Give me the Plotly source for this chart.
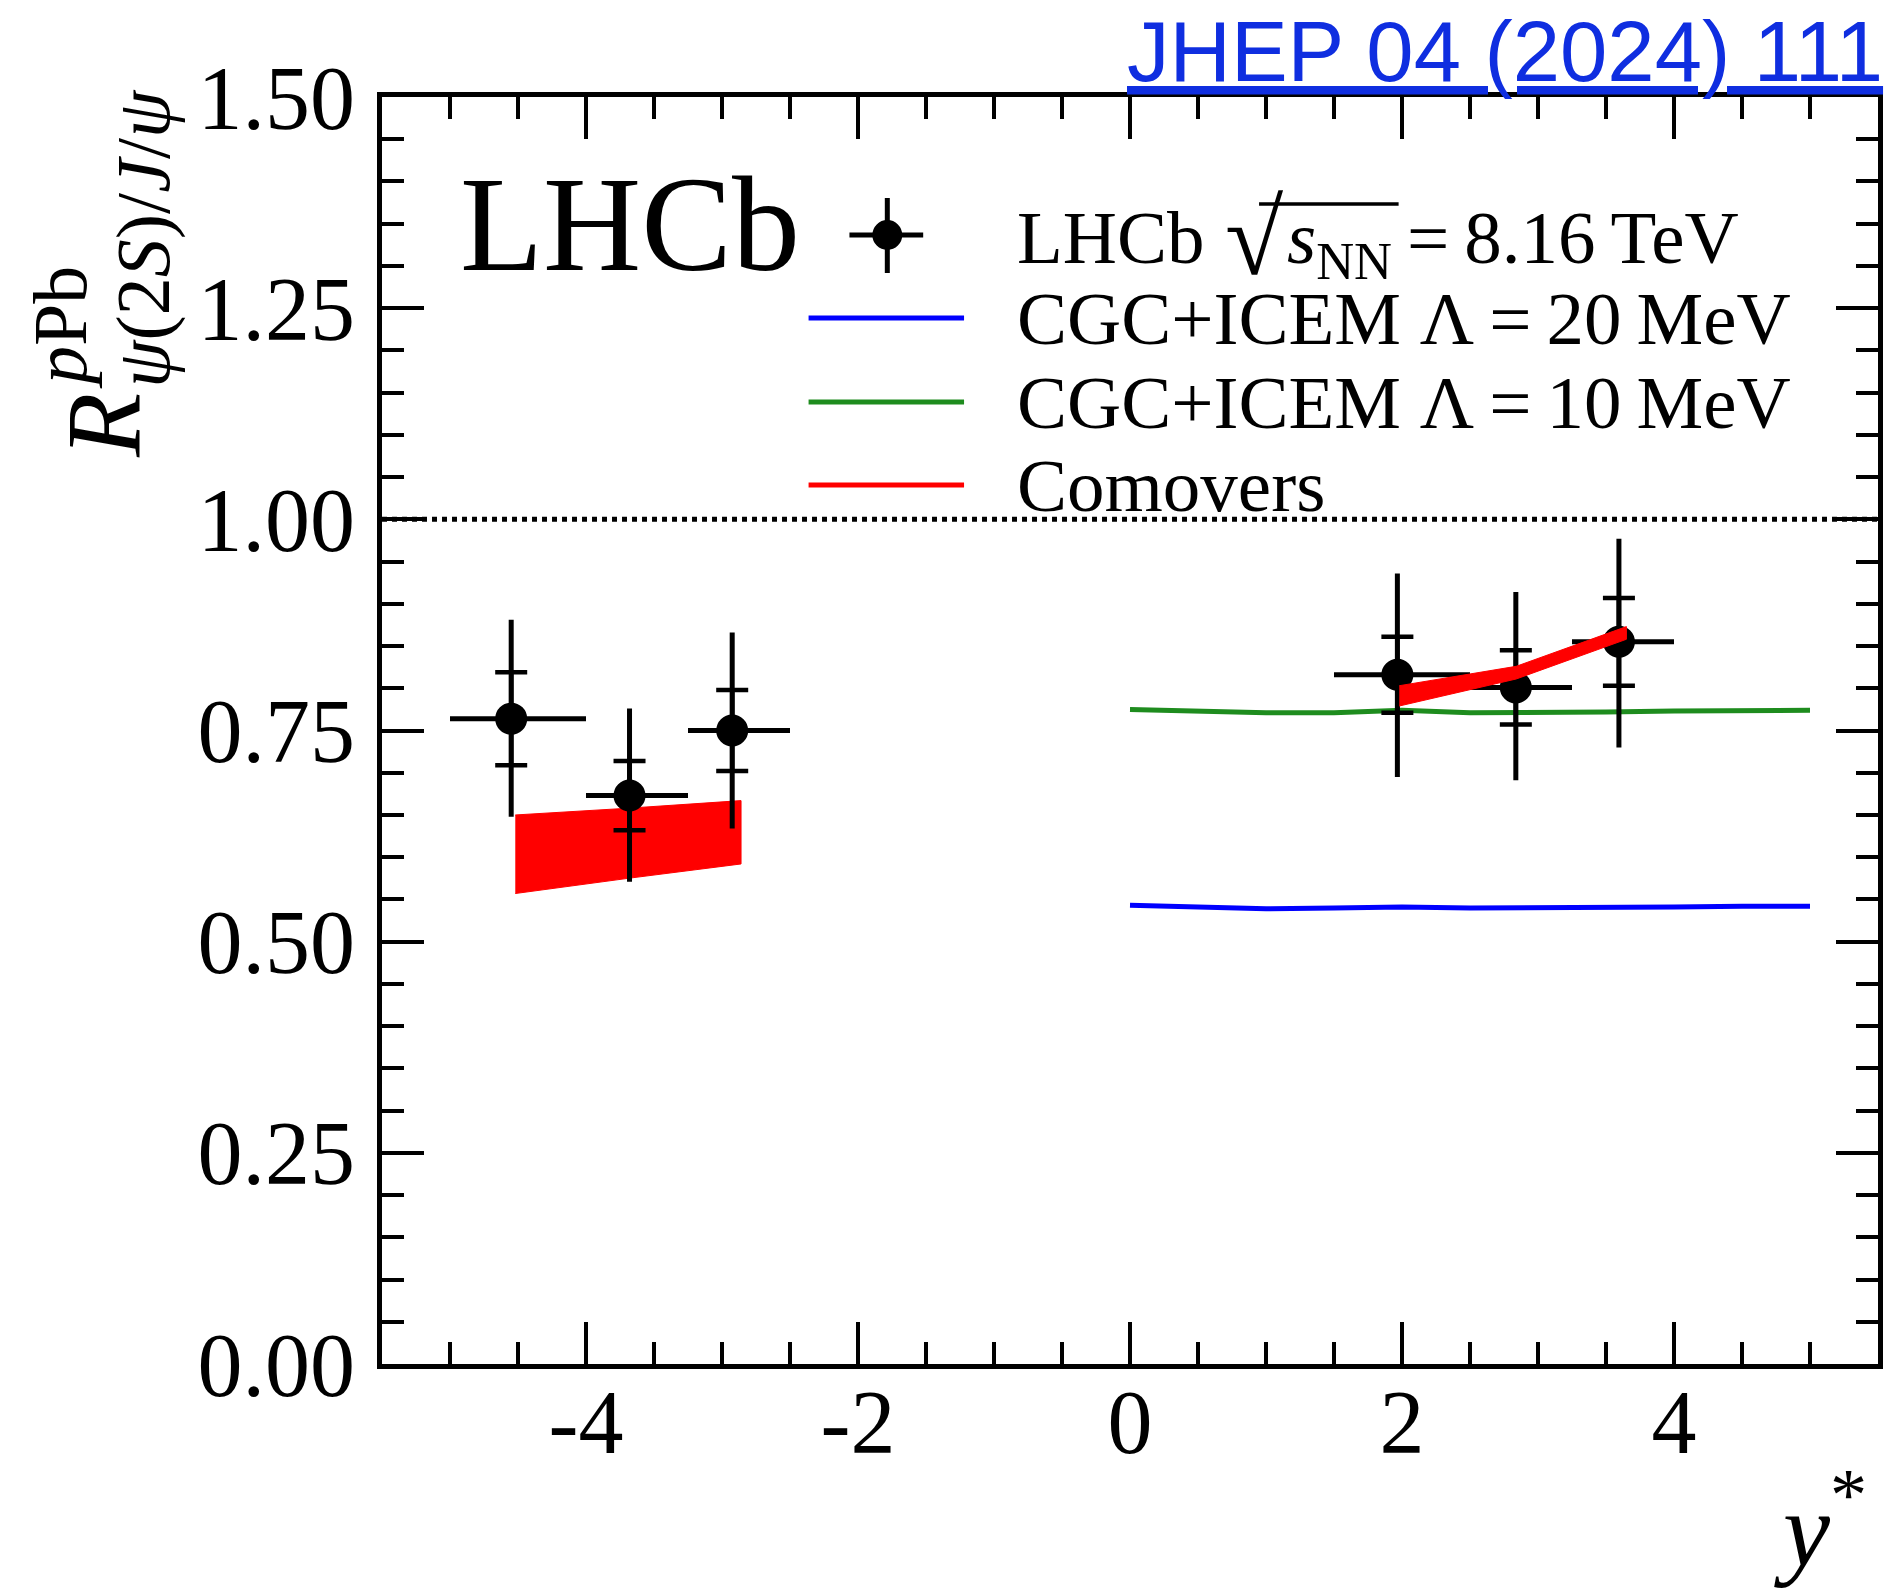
import plotly.graph_objects as go

# ---------------- data ----------------
y_star = [-4.55, -3.68, -2.925, 1.966, 2.837, 3.595]
bin_lo = [-5.0, -4.0, -3.25, 1.5, 2.5, 3.25]
bin_hi = [-4.0, -3.25, -2.5, 2.5, 3.25, 4.0]
ratio = [0.764, 0.673, 0.750, 0.816, 0.801, 0.855]
stat_err = [0.055, 0.041, 0.048, 0.045, 0.044, 0.052]
tot_err_up = [0.117, 0.103, 0.116, 0.120, 0.113, 0.122]
tot_err_down = [0.116, 0.102, 0.116, 0.121, 0.110, 0.125]

cgc_x = [0.0, 0.5, 1.0, 1.5, 2.0, 2.5, 3.0, 3.5, 4.0, 4.5, 5.0]
cgc20 = [0.543, 0.541, 0.539, 0.540, 0.541, 0.540, 0.540, 0.541, 0.541, 0.542, 0.542]
cgc10 = [0.775, 0.773, 0.771, 0.771, 0.774, 0.771, 0.771, 0.772, 0.773, 0.773, 0.774]

com_bwd_x = [-4.52, -3.69, -2.86]
com_bwd_lo = [0.557, 0.575, 0.592]
com_bwd_hi = [0.650, 0.658, 0.667]
com_fwd_x = [1.98, 2.84, 3.65]
com_fwd_lo = [0.779, 0.811, 0.858]
com_fwd_hi = [0.803, 0.826, 0.873]

x_tick_vals = [-4, -2, 0, 2, 4]
x_tick_text = ["-4", "-2", "0", "2", "4"]
y_tick_vals = [0.0, 0.25, 0.5, 0.75, 1.0, 1.25, 1.5]
y_tick_text = ["0.00", "0.25", "0.50", "0.75", "1.00", "1.25", "1.50"]

legend_labels = [
    "LHCb",
    "CGC+ICEM \u039b\u2009=\u200920\u2009MeV",
    "CGC+ICEM \u039b\u2009=\u200910\u2009MeV",
    "Comovers",
]
legend_energy = "<i>s</i><sub>NN</sub>\u2009=\u20098.16\u2009TeV"

# ---------------- layout geometry (pixels) ----------------
W, H = 1892, 1591
PL, PR, PT, PB = 382, 1883, 97, 1364
SERIF = "Liberation Serif"
BLUE, GREEN, RED = "#0000ff", "#1e8c1e", "#ff0000"


def px(p):
    return (p - PL) / (PR - PL)


def py(p):
    return (PB - p) / (PB - PT)


fig = go.Figure()

# comovers backward band (under data)
fig.add_trace(go.Scatter(
    x=com_bwd_x + com_bwd_x[::-1], y=com_bwd_lo + com_bwd_hi[::-1],
    fill="toself", fillcolor=RED, mode="lines",
    line=dict(color=RED, width=1), showlegend=False, hoverinfo="skip"))

# CGC+ICEM lines
fig.add_trace(go.Scatter(x=cgc_x, y=cgc20, mode="lines",
                         line=dict(color=BLUE, width=5), showlegend=False))
fig.add_trace(go.Scatter(x=cgc_x, y=cgc10, mode="lines",
                         line=dict(color=GREEN, width=5), showlegend=False))

# LHCb data: total uncertainty + bin widths
fig.add_trace(go.Scatter(
    x=y_star, y=ratio, mode="markers",
    marker=dict(symbol="circle", size=29, color="black",
                line=dict(color="black", width=3)),
    error_x=dict(type="data", symmetric=False,
                 array=[h - x for h, x in zip(bin_hi, y_star)],
                 arrayminus=[x - l for x, l in zip(y_star, bin_lo)],
                 width=0, thickness=5, color="black"),
    error_y=dict(type="data", symmetric=False, array=tot_err_up,
                 arrayminus=tot_err_down, width=0, thickness=5, color="black"),
    showlegend=False))
# statistical uncertainty ticks
fig.add_trace(go.Scatter(
    x=y_star, y=ratio, mode="markers", marker=dict(size=2, opacity=0),
    error_y=dict(type="data", array=stat_err, width=16, thickness=4.5,
                 color="black"),
    showlegend=False, hoverinfo="skip"))

# comovers forward band (over data)
fig.add_trace(go.Scatter(
    x=com_fwd_x + com_fwd_x[::-1], y=com_fwd_lo + com_fwd_hi[::-1],
    fill="toself", fillcolor=RED, mode="lines",
    line=dict(color=RED, width=1), showlegend=False, hoverinfo="skip"))

shapes = [
    dict(type="line", xref="paper", yref="y", x0=0, x1=1, y0=1.0, y1=1.0,
         line=dict(color="black", width=5, dash="5px,5px")),
]
# manual legend samples
for yy, col in [(318, BLUE), (402, GREEN), (485, RED)]:
    shapes.append(dict(type="line", xref="paper", yref="paper",
                       x0=px(810), x1=px(966), y0=py(yy), y1=py(yy),
                       line=dict(color=col, width=5)))
# legend data marker (cross + dot)
mx, my = 889, 235
shapes += [
    dict(type="line", xref="paper", yref="paper", x0=px(851), x1=px(925),
         y0=py(my), y1=py(my), line=dict(color="black", width=5)),
    dict(type="line", xref="paper", yref="paper", x0=px(mx), x1=px(mx),
         y0=py(198), y1=py(273), line=dict(color="black", width=5)),
    dict(type="circle", xref="paper", yref="paper", x0=px(mx - 14),
         x1=px(mx + 14), y0=py(my - 14), y1=py(my + 14),
         fillcolor="black", line=dict(color="black", width=2)),
    # sqrt overline
    dict(type="line", xref="paper", yref="paper", x0=px(1262), x1=px(1402),
         y0=py(204), y1=py(204), line=dict(color="black", width=3.5)),
]

annotations = [
    dict(text="LHCb", xref="paper", yref="paper", x=px(458), y=py(224),
         xanchor="left", yanchor="middle", showarrow=False,
         font=dict(family=SERIF, size=136, color="black")),
    # link
    dict(text="<u>JHEP 04 (2024) 111</u>", xref="paper", yref="paper",
         x=px(1890), y=py(2), xanchor="right", yanchor="top", showarrow=False,
         font=dict(family="Liberation Sans", size=85, color="#0f2ee0")),
    # x title
    dict(text="<i>y</i><sup>*</sup>", xref="paper", yref="paper",
         x=px(1874), y=py(1590), xanchor="right", yanchor="bottom",
         showarrow=False, font=dict(family=SERIF, size=106, color="black")),
    # y title pieces
    dict(text="<i>R</i>", xref="paper", yref="paper", x=px(103), y=py(425),
         xanchor="center", yanchor="middle", textangle=-90, showarrow=False,
         font=dict(family=SERIF, size=105, color="black")),
    dict(text="<i>p</i>Pb", xref="paper", yref="paper", x=px(59), y=py(328),
         xanchor="center", yanchor="middle", textangle=-90, showarrow=False,
         font=dict(family=SERIF, size=76, color="black")),
    dict(text="<i>\u03c8</i>(2<i>S</i>)/<i>J</i>/<i>\u03c8</i>", xref="paper",
         yref="paper", x=px(143), y=py(238), xanchor="center",
         yanchor="middle", textangle=-90, showarrow=False,
         font=dict(family=SERIF, size=76, color="black")),
    # radical sign of the energy label
    dict(text="\u221a", xref="paper", yref="paper", x=px(1226),
         y=py(272 - 0.891 * 106), xanchor="left", yanchor="top",
         showarrow=False, font=dict(family=SERIF, size=106, color="black")),
    dict(text=legend_energy, xref="paper", yref="paper", x=px(1288),
         y=py(262 - 0.891 * 75 - 1), xanchor="left", yanchor="top",
         showarrow=False, font=dict(family=SERIF, size=75, color="black")),
]
for lab, base in zip(legend_labels, [262, 343, 427, 510]):
    annotations.append(dict(
        text=lab, xref="paper", yref="paper", x=px(1017),
        y=py(base - 0.891 * 75 - 1), xanchor="left", yanchor="top",
        showarrow=False, font=dict(family=SERIF, size=75, color="black")))

axis_common = dict(
    ticks="inside", ticklen=42, tickwidth=4, tickcolor="black",
    showline=True, linewidth=5, linecolor="black", mirror="ticks",
    showgrid=False, zeroline=False,
    tickfont=dict(family=SERIF, size=90, color="black"),
)

fig.update_layout(
    width=W, height=H,
    margin=dict(l=PL, r=W - PR, t=PT, b=H - PB, pad=0),
    paper_bgcolor="white", plot_bgcolor="white",
    showlegend=False,
    xaxis=dict(range=[-5.5, 5.5], tickmode="array", tickvals=x_tick_vals,
               ticktext=x_tick_text, ticklabelstandoff=-24,
               minor=dict(tickmode="linear", tick0=0, dtick=0.5,
                          ticks="inside", ticklen=22, tickwidth=4,
                          tickcolor="black"),
               **axis_common),
    yaxis=dict(range=[0, 1.5], tickmode="array", tickvals=y_tick_vals,
               ticktext=y_tick_text, ticklabelstandoff=4,
               minor=dict(tickmode="linear", tick0=0, dtick=0.05,
                          ticks="inside", ticklen=22, tickwidth=4,
                          tickcolor="black"),
               **axis_common),
    shapes=shapes, annotations=annotations,
)

fig.write_html("out.html")
